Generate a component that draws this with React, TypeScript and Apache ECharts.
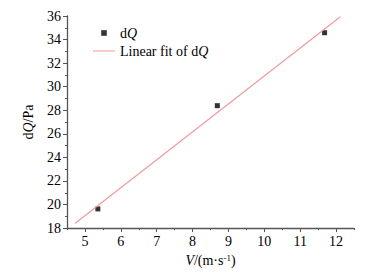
import React, { useEffect, useRef } from "react";
import * as echarts from "echarts";

const speedV = [5.36, 8.69, 11.68];
const dQValues = [19.63, 28.39, 34.58];
const fitX = [4.72, 12.12];
const fitY = [18.39, 35.94];
const xTickValues = [5, 6, 7, 8, 9, 10, 11, 12];

const FONT = "Liberation Serif";

export default function App() {
  const ref = useRef<HTMLDivElement>(null);
  useEffect(() => {
    if (!ref.current) return;
    const chart = echarts.init(ref.current, undefined, { renderer: "svg" });
    const axisColor = "#555";
    const rich = {
      n: { fontFamily: FONT, fontSize: 14, color: "#000" },
      i: { fontFamily: FONT, fontSize: 14, fontStyle: "italic", color: "#000" },
      sup: { fontFamily: FONT, fontSize: 9, color: "#000", verticalAlign: "top" },
    };
    chart.setOption({
      animation: false,
      backgroundColor: "#fff",
      textStyle: { fontFamily: FONT },
      grid: { left: 67, top: 16, width: 287, height: 217, containLabel: false },
      legend: {
        orient: "vertical",
        left: 93,
        top: 26,
        padding: 0,
        itemWidth: 22,
        itemHeight: 14,
        itemGap: 4,
        textStyle: { fontFamily: FONT, fontSize: 14, color: "#000", rich },
        formatter: (name: string) =>
          name === "dQ" ? "{n|d}{i|Q}" : "{n|Linear fit of d}{i|Q}",
        data: [
          { name: "dQ", icon: "path://M0 0M10 10M3 3h4v4h-4z" },
          { name: "Linear fit of dQ", icon: "path://M0 0M22 14M0 6.5h22v1h-22z" },
        ],
      },
      xAxis: [
        {
          type: "value",
          min: 4.5,
          max: 12.5,
          interval: 0.5,
          position: "bottom",
          axisLine: { show: true, lineStyle: { color: axisColor, width: 1.3 } },
          axisTick: { show: true, length: 2, lineStyle: { color: axisColor, width: 1 } },
          axisLabel: { show: false },
          splitLine: { show: false },
        },
        {
          type: "value",
          min: 4.5,
          max: 12.5,
          position: "bottom",
          axisLine: { show: false },
          axisTick: {
            show: true,
            length: 4,
            customValues: xTickValues,
            lineStyle: { color: axisColor, width: 1 },
          },
          axisLabel: {
            show: true,
            customValues: xTickValues,
            margin: 6,
            fontFamily: FONT,
            fontSize: 14,
            color: "#000",
          },
          splitLine: { show: false },
          name: "{i|V}{n|/(m·s}{sup|-1}{n|)}",
          nameLocation: "middle",
          nameGap: 22,
          nameTextStyle: { rich },
        },
      ],
      yAxis: {
        type: "value",
        min: 18,
        max: 36,
        interval: 2,
        axisLine: { show: true, lineStyle: { color: axisColor, width: 1.3 } },
        axisTick: { show: true, length: 4, lineStyle: { color: axisColor, width: 1 } },
        minorTick: { show: true, splitNumber: 2, length: 2, lineStyle: { color: axisColor, width: 1 } },
        axisLabel: { margin: 6, fontFamily: FONT, fontSize: 14, color: "#000" },
        splitLine: { show: false },
        name: "{n|d}{i|Q}{n|/Pa}",
        nameLocation: "middle",
        nameGap: 32,
        nameTextStyle: { rich },
      },
      series: [
        {
          name: "dQ",
          type: "scatter",
          xAxisIndex: 0,
          symbol: "rect",
          symbolSize: 5,
          itemStyle: { color: "#000" },
          data: speedV.map((v, k) => [v, dQValues[k]]),
        },
        {
          name: "Linear fit of dQ",
          type: "line",
          xAxisIndex: 0,
          showSymbol: false,
          symbol: "none",
          lineStyle: { color: "#f09898", width: 1.1 },
          itemStyle: { color: "#f09898" },
          data: fitX.map((v, k) => [v, fitY[k]]),
        },
      ],
    });
    return () => chart.dispose();
  }, []);
  return (
    <div
      ref={ref}
      style={{ position: "fixed", left: 0, top: 0, width: 385, height: 272 }}
    />
  );
}
